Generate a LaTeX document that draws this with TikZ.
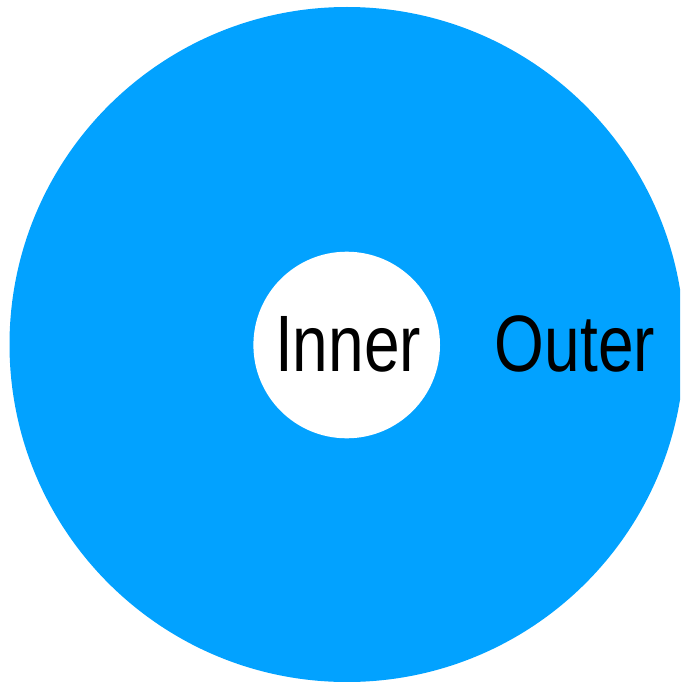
\documentclass[tikz,border=0pt]{standalone}
\usepackage{fontspec}
\newfontfamily\condfont[FakeStretch=0.8]{Liberation Sans}
\usepackage{tikz}
\usetikzlibrary{positioning}
\definecolor{ringblue}{RGB}{2,162,255}
\tikzset{ringlabel/.style={anchor=base,inner sep=0pt,text=black,
  font=\condfont\fontsize{80}{96}\selectfont}}

\begin{document}
\begin{tikzpicture}[x=1pt,y=-1pt]
  \useasboundingbox (0,0) rectangle (680,682);
  \begin{scope}
    \clip (0,0) rectangle (680,682);
    \fill[ringblue] (347,344.5) circle (337.5);
    \fill[white] (346.7,345) circle (93.3);
  \end{scope}
  \node[ringlabel] (inner) at (348,371) {Inner};
  \node[ringlabel] (outer) at (575,371) {Outer};
\end{tikzpicture}
\end{document}
